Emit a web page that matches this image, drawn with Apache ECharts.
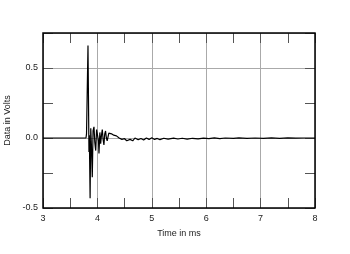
<!DOCTYPE html>
<html><head><meta charset="utf-8">
<script src="https://cdn.jsdelivr.net/npm/echarts@6/dist/echarts.min.js"></script>
<style>html,body{margin:0;padding:0;background:#fff}#c{width:350px;height:254px}</style>
</head><body><div id="c"></div>
<script>
const times = [3.00,3.79,3.80,3.827,3.845,3.852,3.866,3.878,3.89,3.906,
               3.92,3.937,3.952,3.969,3.985,4.011,4.02,4.029,4.045,4.06,
               4.075,4.09,4.105,4.12,4.135,4.15,4.165,4.18,4.21,4.26,
               4.30,4.35,4.40,4.45,4.50,4.54,4.60,4.65,4.69,4.75,
               4.80,4.85,4.90,4.95,5.00,5.05,5.10,5.15,5.22,5.30,
               5.40,5.48,5.56,5.65,5.75,5.85,5.95,6.05,6.15,6.25,
               6.35,6.5,6.6,6.75,6.9,7.05,7.2,7.35,7.5,7.65,
               7.8,8.0];
const volts = [0,0,0.03,0.66,-0.1,0.02,-0.43,0.07,-0.05,-0.28,
               0.05,0.08,-0.03,-0.09,0.06,0.07,-0.02,-0.11,0.04,-0.04,
               0.02,0.06,-0.01,-0.05,0.03,0.05,0.0,-0.02,0.035,0.03,
               0.02,0.015,0.0,-0.01,-0.005,-0.02,-0.01,-0.02,0.0,-0.012,
               -0.004,-0.014,0.0,-0.01,0.002,-0.01,-0.003,-0.012,-0.002,-0.008,
               -0.001,-0.007,-0.002,-0.008,-0.002,-0.006,-0.001,-0.005,0.001,-0.004,
               0.0,-0.003,0.001,-0.002,0.0,-0.003,0.001,-0.002,0.001,-0.001,
               0.0,0];
const xTickLabels = ['3','4','5','6','7','8'];
const yTickLabels = {'-0.5':'-0.5','0':'0.0','0.5':'0.5'};
const xTitle = 'Time in ms';
const yTitle = 'Data in Volts';

const font = 'Liberation Sans, Arial, sans-serif';
const chart = echarts.init(document.getElementById('c'));
const XMIN=3, XMAX=8, YMIN=-0.5, YMAX=0.75;
const tickStyle = {show:true, inside:true, length:10, lineStyle:{color:'#555', width:1}};
const noLine = {show:false, onZero:false};
chart.setOption({
  animation:false,
  grid:{left:43, right:35, top:33, bottom:46, containLabel:false, outerBoundsMode:'none',
        show:true, borderColor:'#000', borderWidth:1.5, backgroundColor:'transparent', z:10},
  xAxis:[
    {type:'value', min:XMIN, max:XMAX, interval:1, position:'bottom',
     axisLine:noLine, axisTick:{show:false},
     axisLabel:{color:'#222', fontSize:9, fontFamily:font, margin:6,
       formatter:v=>{const i=Math.round(v-XMIN);return xTickLabels[i]!==undefined?xTickLabels[i]:'';}},
     splitLine:{show:true, lineStyle:{color:'#aaa', width:1}},
     name:xTitle, nameLocation:'middle', nameGap:21, nameTextStyle:{color:'#222', fontSize:9, fontFamily:font}},
    {type:'value', min:XMIN, max:XMAX, interval:0.5, position:'bottom',
     axisLine:noLine, axisTick:tickStyle, axisLabel:{show:false}, splitLine:{show:false}},
    {type:'value', min:XMIN, max:XMAX, interval:0.5, position:'top',
     axisLine:noLine, axisTick:tickStyle, axisLabel:{show:false}, splitLine:{show:false}}
  ],
  yAxis:[
    {type:'value', min:YMIN, max:YMAX, interval:0.5, position:'left',
     axisLine:noLine, axisTick:{show:false},
     axisLabel:{color:'#222', fontSize:9, fontFamily:font, margin:5,
       formatter:v=>{const k=String(Math.round(v*10)/10);return yTickLabels[k]!==undefined?yTickLabels[k]:'';}},
     splitLine:{show:true, lineStyle:{color:'#aaa', width:1}},
     name:yTitle, nameLocation:'middle', nameGap:23, nameTextStyle:{color:'#222', fontSize:9, fontFamily:font}},
    {type:'value', min:YMIN, max:YMAX, interval:0.25, position:'left',
     axisLine:noLine, axisTick:tickStyle, axisLabel:{show:false}, splitLine:{show:false}},
    {type:'value', min:YMIN, max:YMAX, interval:0.25, position:'right',
     axisLine:noLine, axisTick:tickStyle, axisLabel:{show:false}, splitLine:{show:false}}
  ],
  series:[{type:'line', xAxisIndex:0, yAxisIndex:0, showSymbol:false, symbol:'none',
    data:times.map((t,i)=>[t,volts[i]]),
    lineStyle:{color:'#000', width:1.2}, z:5}]
});
</script></body></html>
